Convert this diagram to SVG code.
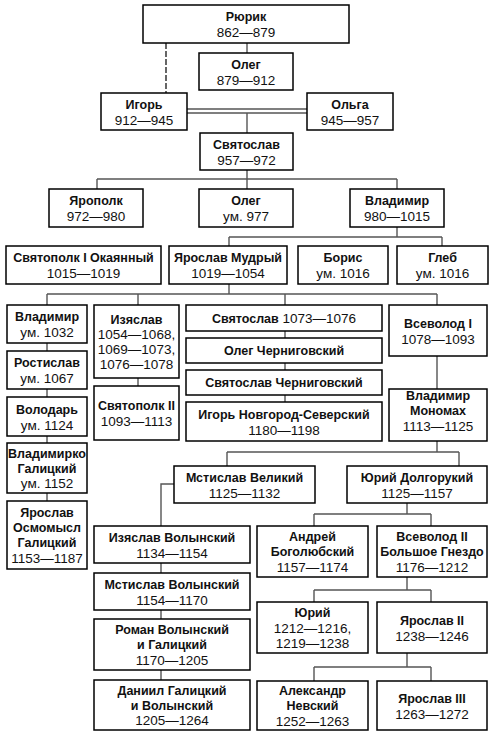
<svg xmlns="http://www.w3.org/2000/svg" width="494" height="737" viewBox="0 0 494 737">
<style>
.b{fill:#fff;stroke:#000;stroke-width:1.5}
text{font-family:"Liberation Sans",Arial,sans-serif;font-size:13.5px;text-anchor:middle;fill:#111}
.n{font-weight:bold;font-size:12.5px}
.c{fill:none;stroke:#555;stroke-width:1.4}
</style>
<rect width="494" height="737" fill="#fff"/>
<g id="connectors" class="c">
<path d="M247,43V53"/>
<path d="M166,43V93" stroke-dasharray="6 2" stroke="#000" stroke-width="1.2"/>
<path d="M187,109H307M187,113H307" stroke="#000" stroke-width="1.2"/>
<path d="M247,113V133"/>
<path d="M247,170V179M97,179H397M97,179V189M247,179V189M397,179V189"/>
<path d="M397,227V237M229,237H442M229,237V246M442,237V246"/>
<path d="M229,284V294M47,294H437M47,294V305M138,294V305M285,294V305M437,294V305"/>
<path d="M47,343V351M47,389V397M47,436V443M47,493V501"/>
<path d="M138,378V386"/>
<path d="M285,331V338M285,363V370M285,395V402"/>
<path d="M437,356V389M437,441V452M227,452H459M227,452V466M459,452V466"/>
<path d="M174,484H161V526M161,563V573M161,610V619M161,670V680"/>
<path d="M407,503V514M314,514H431M314,514V526M431,514V526"/>
<path d="M407,577V590M314,590H431M314,590V602M431,590V602"/>
<path d="M407,653V667M314,667H431M314,667V681M431,667V681"/>
</g>
<g id="rurik"><rect class="b" x="143" y="5" width="206" height="38"/><text class="n" x="246" y="21">Рюрик</text><text x="246" y="37">862—879</text></g>
<g id="oleg"><rect class="b" x="199" y="53" width="94" height="37"/><text class="n" x="246" y="68.5">Олег</text><text x="246" y="84.5">879—912</text></g>
<g id="igor"><rect class="b" x="101" y="93" width="86" height="37"/><text class="n" x="144" y="108.5">Игорь</text><text x="144" y="124.5">912—945</text></g>
<g id="olga"><rect class="b" x="307" y="93" width="86" height="37"/><text class="n" x="350" y="108.5">Ольга</text><text x="350" y="124.5">945—957</text></g>
<g id="svyatoslav"><rect class="b" x="200" y="133" width="93" height="37"/><text class="n" x="246.5" y="148.5">Святослав</text><text x="246.5" y="164.5">957—972</text></g>
<g id="yaropolk"><rect class="b" x="49" y="189" width="94" height="38"/><text class="n" x="96" y="205">Ярополк</text><text x="96" y="221">972—980</text></g>
<g id="oleg2"><rect class="b" x="199" y="189" width="94" height="38"/><text class="n" x="246" y="205">Олег</text><text x="246" y="221">ум. 977</text></g>
<g id="vladimir"><rect class="b" x="350" y="189" width="94" height="38"/><text class="n" x="397" y="205">Владимир</text><text x="397" y="221">980—1015</text></g>
<g id="svyatopolk1"><rect class="b" x="6" y="246" width="155" height="38"/><text class="n" x="83.5" y="262">Святополк I Окаянный</text><text x="83.5" y="278">1015—1019</text></g>
<g id="yaroslav"><rect class="b" x="169" y="246" width="118" height="38"/><text class="n" x="228" y="262">Ярослав Мудрый</text><text x="228" y="278">1019—1054</text></g>
<g id="boris"><rect class="b" x="298" y="246" width="90" height="38"/><text class="n" x="343" y="262">Борис</text><text x="343" y="278">ум. 1016</text></g>
<g id="gleb"><rect class="b" x="397" y="246" width="91" height="38"/><text class="n" x="442.5" y="262">Глеб</text><text x="442.5" y="278">ум. 1016</text></g>
<g id="vladimir2"><rect class="b" x="7" y="305" width="80" height="38"/><text class="n" x="47" y="321">Владимир</text><text x="47" y="337">ум. 1032</text></g>
<g id="rostislav"><rect class="b" x="7" y="351" width="80" height="38"/><text class="n" x="47" y="367">Ростислав</text><text x="47" y="383">ум. 1067</text></g>
<g id="volodar"><rect class="b" x="7" y="397" width="80" height="39"/><text class="n" x="47" y="413.5">Володарь</text><text x="47" y="429.5">ум. 1124</text></g>
<g id="vladimirko"><rect class="b" x="7" y="443" width="80" height="50"/><text class="n" x="47" y="457.5">Владимирко</text><text class="n" x="47" y="472.5">Галицкий</text><text x="47" y="488">ум. 1152</text></g>
<g id="yaroslav-osmomysl"><rect class="b" x="7" y="501" width="80" height="68"/><text class="n" x="47" y="517">Ярослав</text><text class="n" x="47" y="532">Осмомысл</text><text class="n" x="47" y="547">Галицкий</text><text x="47" y="563">1153—1187</text></g>
<g id="izyaslav"><rect class="b" x="94" y="305" width="85" height="73"/><text class="n" x="136.5" y="323.5">Изяслав</text><text x="136.5" y="339">1054—1068,</text><text x="136.5" y="354">1069—1073,</text><text x="136.5" y="369">1076—1078</text></g>
<g id="svyatopolk2"><rect class="b" x="94" y="386" width="85" height="54"/><text class="n" x="136.5" y="410">Святополк II</text><text x="136.5" y="426">1093—1113</text></g>
<g id="svyatoslav2"><rect class="b" x="186" y="305" width="196" height="26"/><text x="284" y="322.5"><tspan class="n">Святослав</tspan> 1073—1076</text></g>
<g id="oleg-chernigovsky"><rect class="b" x="186" y="338" width="196" height="25"/><text class="n" x="284" y="355">Олег Черниговский</text></g>
<g id="svyatoslav-chernigovsky"><rect class="b" x="186" y="370" width="196" height="25"/><text class="n" x="284" y="387">Святослав Черниговский</text></g>
<g id="igor-ns"><rect class="b" x="186" y="402" width="196" height="39"/><text class="n" x="284" y="418.5">Игорь Новгород-Северский</text><text x="284" y="434.5">1180—1198</text></g>
<g id="vsevolod1"><rect class="b" x="389" y="305" width="98" height="51"/><text class="n" x="438" y="327.5">Всеволод I</text><text x="438" y="343.5">1078—1093</text></g>
<g id="monomakh"><rect class="b" x="389" y="389" width="98" height="52"/><text class="n" x="438" y="400">Владимир</text><text class="n" x="438" y="415">Мономах</text><text x="438" y="431">1113—1125</text></g>
<g id="mstislav-veliky"><rect class="b" x="174" y="466" width="141" height="37"/><text class="n" x="244.5" y="481.5">Мстислав Великий</text><text x="244.5" y="497.5">1125—1132</text></g>
<g id="yuriy-dolgoruky"><rect class="b" x="347" y="466" width="140" height="37"/><text class="n" x="417" y="481.5">Юрий Долгорукий</text><text x="417" y="497.5">1125—1157</text></g>
<g id="izyaslav-vol"><rect class="b" x="94" y="526" width="156" height="37"/><text class="n" x="172" y="541.5">Изяслав Волынский</text><text x="172" y="557.5">1134—1154</text></g>
<g id="mstislav-vol"><rect class="b" x="94" y="573" width="156" height="37"/><text class="n" x="172" y="588.5">Мстислав Волынский</text><text x="172" y="604.5">1154—1170</text></g>
<g id="roman"><rect class="b" x="94" y="619" width="156" height="51"/><text class="n" x="172" y="634">Роман Волынский</text><text class="n" x="172" y="649">и Галицкий</text><text x="172" y="665">1170—1205</text></g>
<g id="daniil"><rect class="b" x="94" y="680" width="156" height="50"/><text class="n" x="172" y="694.5">Даниил Галицкий</text><text class="n" x="172" y="709.5">и Волынский</text><text x="172" y="725">1205—1264</text></g>
<g id="andrey"><rect class="b" x="257" y="526" width="111" height="51"/><text class="n" x="312.5" y="541">Андрей</text><text class="n" x="312.5" y="556">Боголюбский</text><text x="312.5" y="572">1157—1174</text></g>
<g id="vsevolod2"><rect class="b" x="377" y="526" width="110" height="51"/><text class="n" x="432" y="541">Всеволод II</text><text class="n" x="432" y="556">Большое Гнездо</text><text x="432" y="572">1176—1212</text></g>
<g id="yuriy"><rect class="b" x="257" y="602" width="111" height="51"/><text class="n" x="312.5" y="617">Юрий</text><text x="312.5" y="632.5">1212—1216,</text><text x="312.5" y="648">1219—1238</text></g>
<g id="yaroslav2"><rect class="b" x="377" y="602" width="110" height="51"/><text class="n" x="432" y="624.5">Ярослав II</text><text x="432" y="640.5">1238—1246</text></g>
<g id="alexander"><rect class="b" x="257" y="681" width="111" height="49"/><text class="n" x="312.5" y="695">Александр</text><text class="n" x="312.5" y="710">Невский</text><text x="312.5" y="725.5">1252—1263</text></g>
<g id="yaroslav3"><rect class="b" x="377" y="681" width="110" height="49"/><text class="n" x="432" y="702.5">Ярослав III</text><text x="432" y="718.5">1263—1272</text></g>
</svg>
